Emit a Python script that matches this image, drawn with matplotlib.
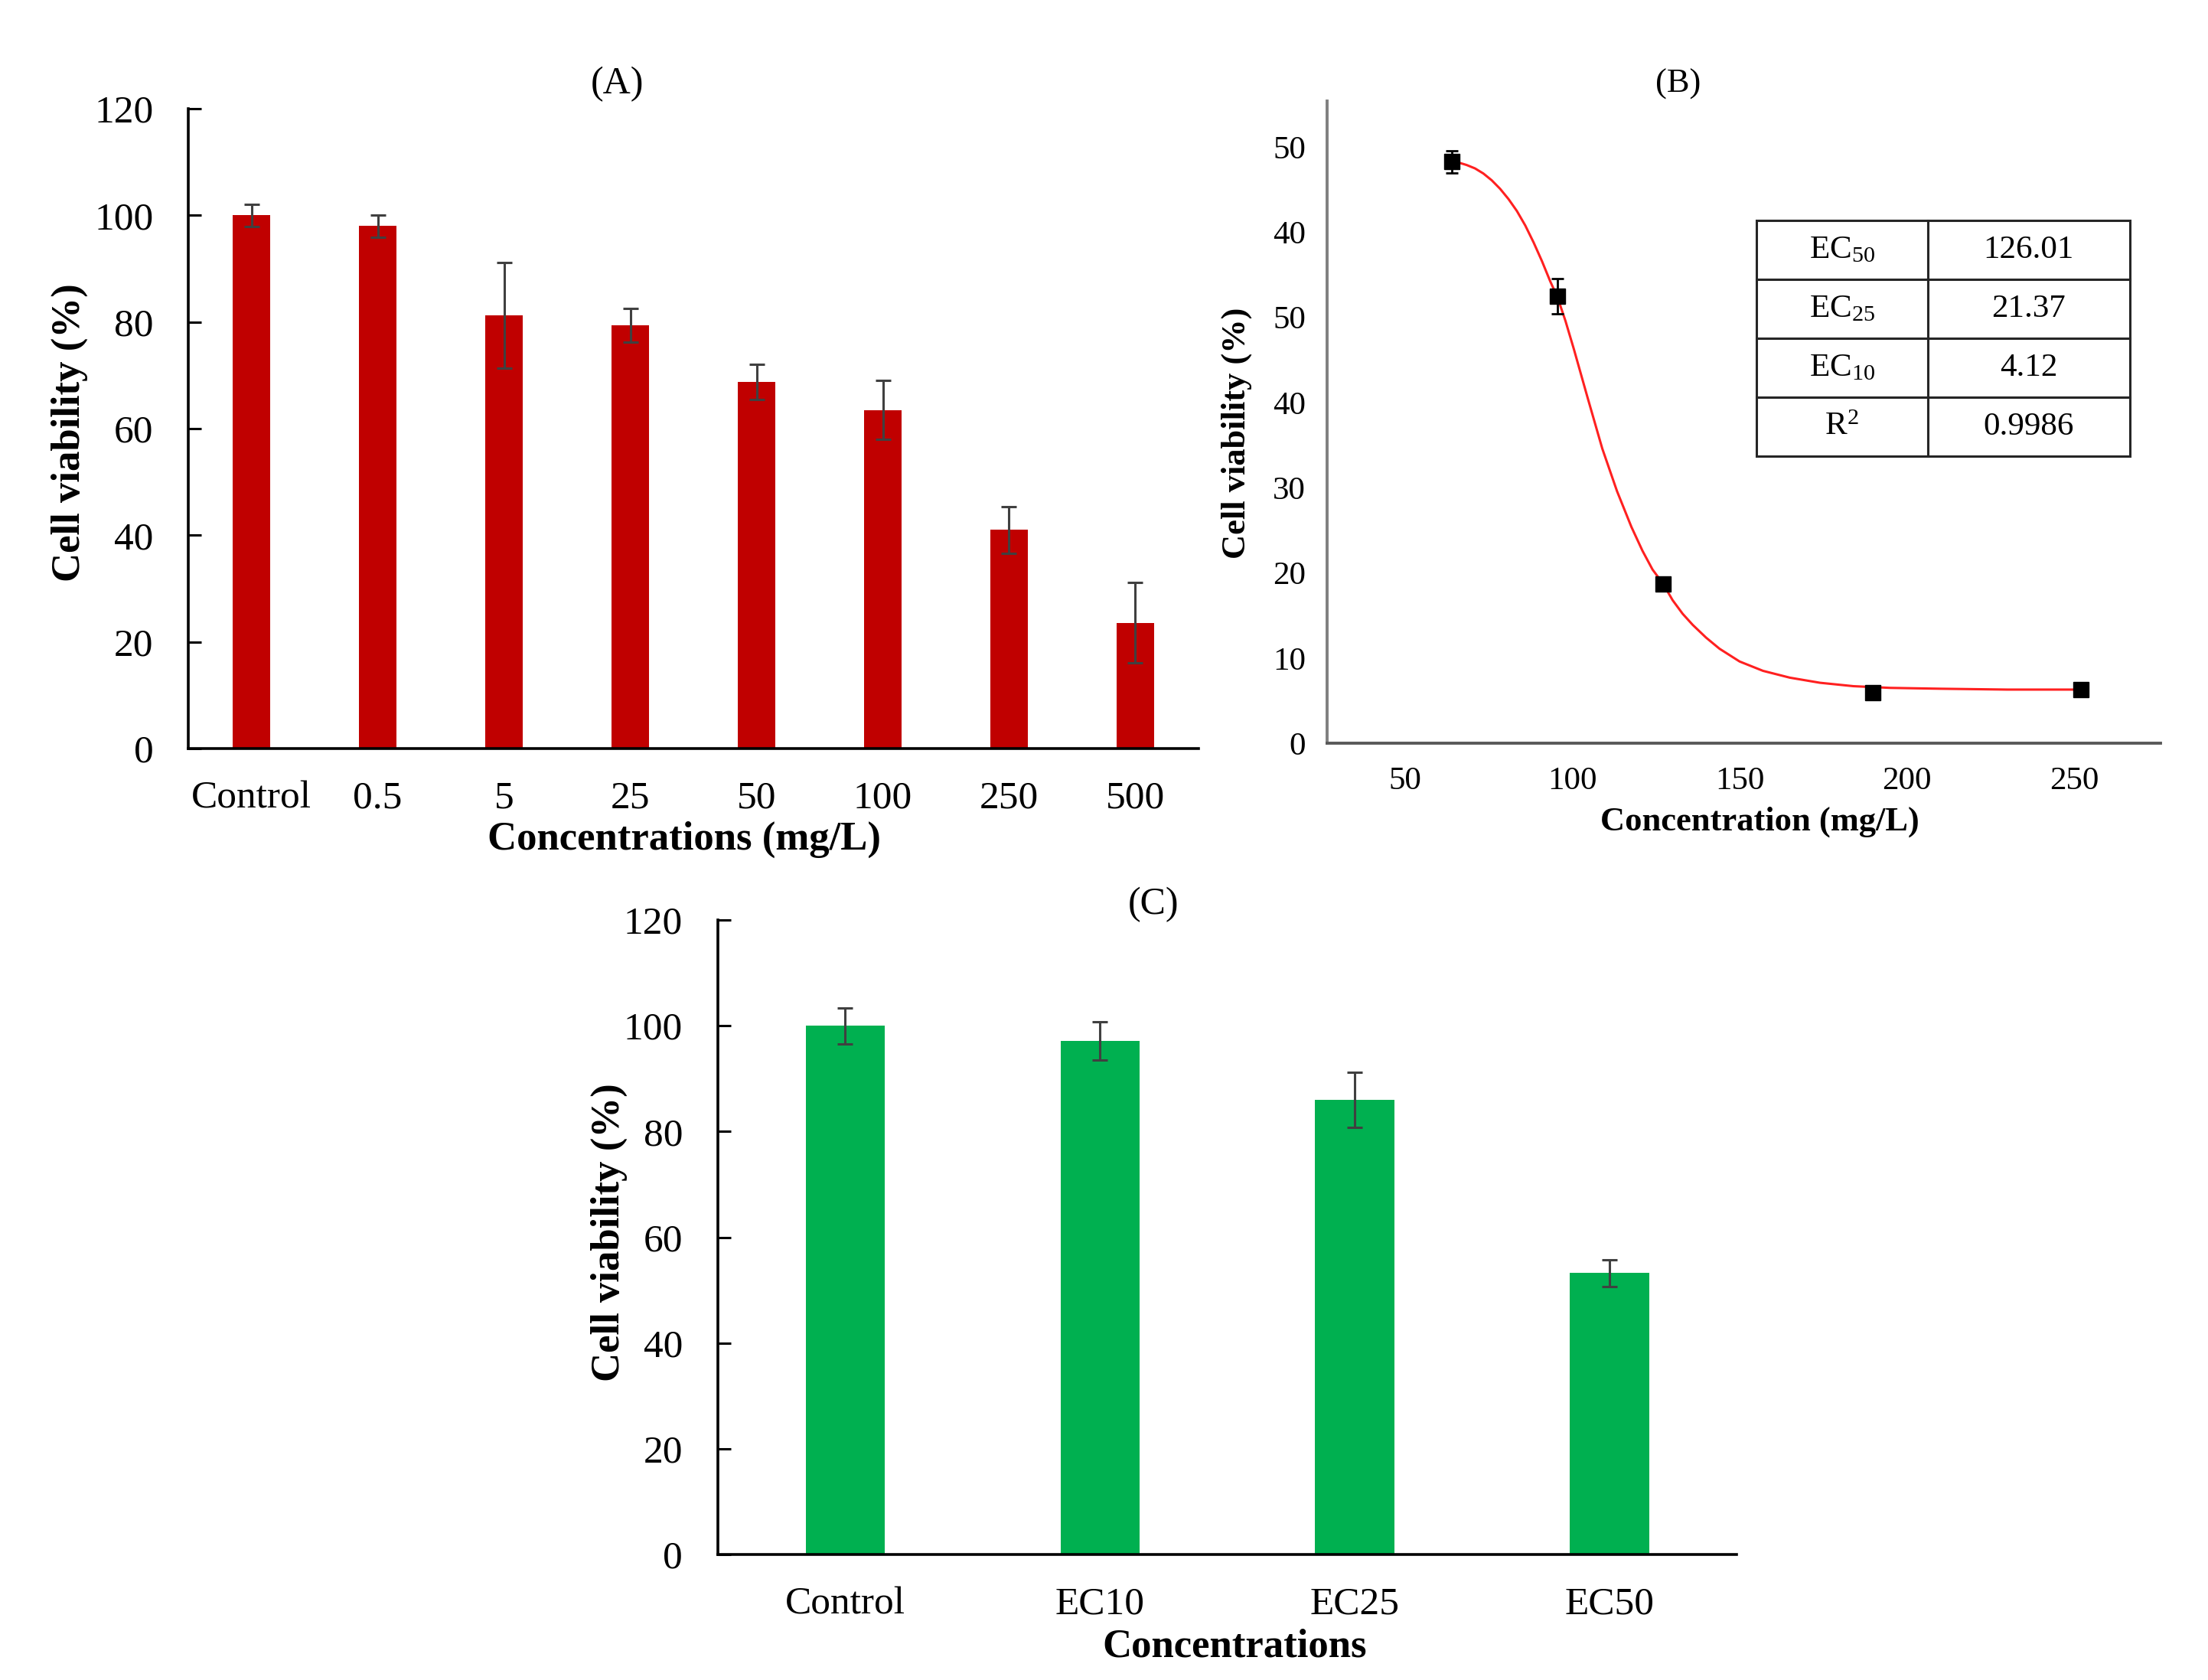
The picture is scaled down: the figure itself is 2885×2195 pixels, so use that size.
import matplotlib
matplotlib.use("Agg")
import matplotlib.pyplot as plt

plt.rcParams["font.family"] = ["Liberation Serif", "DejaVu Serif"]
plt.rcParams["mathtext.fontset"] = "custom"
plt.rcParams["mathtext.rm"] = "Liberation Serif"
plt.rcParams["mathtext.it"] = "Liberation Serif:italic"

# (A) viability vs concentration
a_labels = ["Control", "0.5", "5", "25", "50", "100", "250", "500"]
a_values = [100.0, 98.0, 81.2, 79.4, 68.8, 63.5, 41.0, 23.6]
a_errors = [2.1, 2.1, 9.9, 3.2, 3.3, 5.5, 4.4, 7.5]

# (B) dose-response points and fitted curve (as drawn, axis units)
b_x = [64.0, 95.6, 127.2, 189.7, 252.0]
b_y = [68.3, 52.5, 18.7, 5.9, 6.3]
b_err = [1.3, 2.1, 0.0, 0.0, 0.0]
curve_x = [64.0, 66.0, 68.5, 71.0, 73.5, 76.0, 78.5, 81.0, 83.5, 86.0,
           88.5, 91.0, 93.5, 95.6, 98.0, 100.5, 104.6, 109.0, 113.4, 117.7,
           121.0, 124.0, 127.2, 130.0, 133.0, 136.0, 140.0, 144.0, 150.0,
           157.0, 165.0, 174.0, 184.0, 195.0, 210.0, 230.0, 252.0]
curve_y = [68.3, 68.2, 67.9, 67.5, 66.9, 66.1, 65.1, 63.9, 62.5, 60.8,
           58.8, 56.6, 54.2, 52.4, 49.6, 46.3, 40.6, 34.6, 29.6, 25.4,
           22.6, 20.4, 18.7, 16.8, 15.2, 13.9, 12.4, 11.1, 9.6,
           8.5, 7.7, 7.1, 6.7, 6.5, 6.4, 6.3, 6.3]
b_yticks = [0, 10, 20, 30, 40, 50, 60, 70]
b_yticklabels = ["0", "10", "20", "30", "40", "50", "40", "50"]
b_xticks = [50, 100, 150, 200, 250]
table_names = ["EC$_{50}$", "EC$_{25}$", "EC$_{10}$", "R$^{2}$"]
table_values = ["126.01", "21.37", "4.12", "0.9986"]

# (C) viability at EC levels
c_labels = ["Control", "EC10", "EC25", "EC50"]
c_values = [100.0, 97.1, 86.0, 53.2]
c_errors = [3.4, 3.6, 5.2, 2.5]

RED = "#C00000"
GREEN = "#00B050"
ERR = "#404040"

fig = plt.figure(figsize=(28.85, 21.95), dpi=100)


def bar_panel(ax, labels, values, errors, color, width):
    x = list(range(len(labels)))
    ax.bar(x, values, width=width, color=color, zorder=2)
    ax.errorbar(x, values, yerr=errors, fmt="none", ecolor=ERR,
                elinewidth=2.2, capsize=7, capthick=2.2, zorder=3)
    ax.set_xlim(-0.5, len(labels) - 0.5)
    ax.set_ylim(0, 120)
    ax.set_yticks(range(0, 121, 20))
    ax.set_xticks(x)
    ax.set_xticklabels(labels)
    for s in ("top", "right"):
        ax.spines[s].set_visible(False)
    for s in ("left", "bottom"):
        ax.spines[s].set_linewidth(2.6)
        ax.spines[s].set_color("black")
    ax.tick_params(axis="y", direction="in", length=12, width=2.2,
                   labelsize=37, pad=33)
    ax.tick_params(axis="x", length=0, labelsize=37, pad=30)


axA = fig.add_axes([0.0853, 0.5544, 0.4575, 0.3809])
bar_panel(axA, a_labels, a_values, a_errors, RED, 0.30)
fig.text(0.2795, 0.9499, "(A)", fontsize=36, ha="center", va="center")
fig.text(0.0315, 0.7426, "Cell viability (%)", fontsize=38, fontweight="bold",
         rotation=90, ha="center", va="center")
fig.text(0.310, 0.5002, "Concentrations (mg/L)", fontsize=38, fontweight="bold",
         ha="center", va="center")

axB = fig.add_axes([0.6010, 0.5576, 0.3775, 0.3822])
axB.plot(curve_x, curve_y, color="#FF2020", lw=2.2, zorder=2)
axB.errorbar(b_x, b_y, yerr=b_err, fmt="s", color="black", ms=14,
             ecolor="black", elinewidth=2, capsize=6, capthick=2, zorder=3)
axB.set_xlim(26.8, 275.7)
axB.set_ylim(0, 75.4)
axB.set_xticks(b_xticks)
axB.set_yticks(b_yticks)
axB.set_yticklabels(b_yticklabels)
for s in ("top", "right"):
    axB.spines[s].set_visible(False)
axB.spines["left"].set_color("#7F7F7F")
axB.spines["left"].set_linewidth(2.8)
axB.spines["bottom"].set_color("#595959")
axB.spines["bottom"].set_linewidth(2.8)
axB.tick_params(axis="both", length=0, labelsize=31)
axB.tick_params(axis="x", pad=22)
axB.tick_params(axis="y", pad=20)
tbl = axB.table(cellText=[[n, v] for n, v in zip(table_names, table_values)],
                cellLoc="center", colWidths=[0.459, 0.541],
                bbox=[0.515, 0.447, 0.448, 0.367])
tbl.auto_set_font_size(False)
tbl.set_fontsize(31)
for cell in tbl.get_celld().values():
    cell.set_linewidth(2.2)
    cell.set_edgecolor("#262626")
fig.text(0.7600, 0.9499, "(B)", fontsize=32, ha="center", va="center")
fig.text(0.5600, 0.742, "Cell viability (%)", fontsize=32, fontweight="bold",
         rotation=90, ha="center", va="center")
fig.text(0.7970, 0.511, "Concentration (mg/L)", fontsize=32, fontweight="bold",
         ha="center", va="center")

axC = fig.add_axes([0.3251, 0.0747, 0.4615, 0.3777])
bar_panel(axC, c_labels, c_values, c_errors, GREEN, 0.31)
fig.text(0.5225, 0.4615, "(C)", fontsize=36, ha="center", va="center")
fig.text(0.2759, 0.2665, "Cell viability (%)", fontsize=38, fontweight="bold",
         rotation=90, ha="center", va="center")
fig.text(0.5590, 0.020, "Concentrations", fontsize=38, fontweight="bold",
         ha="center", va="center")

fig.savefig("out.png", dpi=100, facecolor="white")
